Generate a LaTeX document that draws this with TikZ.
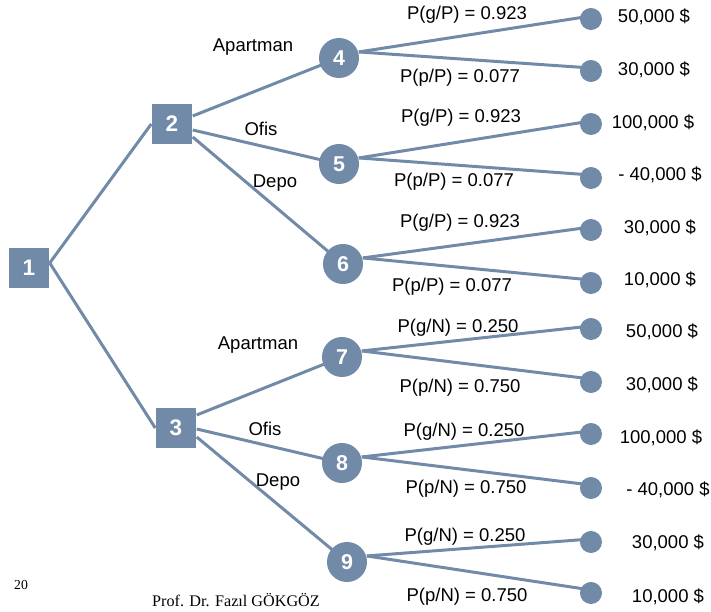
\documentclass[tikz,border=0pt]{standalone}
\usepackage{fontspec}
\setmainfont{Liberation Sans}
\newfontfamily\footerface{Liberation Serif}
\usetikzlibrary{backgrounds}
\definecolor{treeblue}{RGB}{112,138,167}
\begin{document}
\begin{tikzpicture}[x=0.01cm,y=-0.01cm,
  decision/.style={rectangle, fill=treeblue, minimum width=0.40cm, minimum height=0.39cm,
    inner sep=0pt, text=white, font=\fontsize{6.4}{7}\selectfont\bfseries},
  chance/.style={circle, fill=treeblue, minimum size=0.40cm, inner sep=0pt,
    text=white, font=\fontsize{6.1}{7}\selectfont\bfseries},
  leaf/.style={circle, fill=treeblue, minimum size=0.22cm, inner sep=0pt},
  lbl/.style={font=\fontsize{5.26}{6}\selectfont, inner sep=0pt},
  branch/.style={draw=treeblue, line width=0.85pt}]
\useasboundingbox (0,0) rectangle (711,612);

% decision nodes
\node[decision] (n1) at (29,268) {1};
\node[decision] (n2) at (172,124) {2};
\node[decision] (n3) at (176,428) {3};

% chance nodes
\node[chance] (n4) at (339,58) {4};
\node[chance] (n5) at (339,164) {5};
\node[chance] (n6) at (343,264) {6};
\node[chance] (n7) at (342,357) {7};
\node[chance] (n8) at (342,463) {8};
\node[chance] (n9) at (347,562) {9};

% end points
\node[leaf] (e1) at (591,19) {};
\node[leaf] (e2) at (591,71) {};
\node[leaf] (e3) at (591,124) {};
\node[leaf] (e4) at (591,178) {};
\node[leaf] (e5) at (591,230) {};
\node[leaf] (e6) at (591,283) {};
\node[leaf] (e7) at (591,329) {};
\node[leaf] (e8) at (591,382) {};
\node[leaf] (e9) at (591,434) {};
\node[leaf] (e10) at (591,488) {};
\node[leaf] (e11) at (591,542) {};
\node[leaf] (e12) at (591,593) {};

% branches
\begin{scope}[on background layer]
  \draw[branch] ([yshift=0.05cm]n1.east) -- (n2.west);
  \draw[branch] ([yshift=0.05cm]n1.east) -- (n3.west);
  \draw[branch] ([yshift=0.08cm]n2.east) -- (n4.center);
  \draw[branch] ([yshift=-0.06cm]n2.east) -- (n5.center);
  \draw[branch] ([yshift=-0.13cm]n2.east) -- (n6.center);
  \draw[branch] ([yshift=0.13cm]n3.east) -- (n7.center);
  \draw[branch] ([yshift=-0.01cm]n3.east) -- (n8.center);
  \draw[branch] ([yshift=-0.09cm]n3.east) -- (n9.center);
  \foreach \c/\u/\d in {n4/e1/e2, n5/e3/e4, n6/e5/e6, n7/e7/e8, n8/e9/e10, n9/e11/e12}{
    \draw[branch] (\c.17) -- ([yshift=0.03cm]\u.center);
    \draw[branch] (\c.17) -- ([yshift=0.03cm]\d.center);
  }
\end{scope}

% alternative labels
\node[lbl] (a1) at (253,47) {Apartman};
\node[lbl] (a2) at (261,129) {Ofis};
\node[lbl] (a3) at (275,183) {Depo};
\node[lbl] (a4) at (258,345) {Apartman};
\node[lbl] (a5) at (265,429) {Ofis};
\node[lbl] (a6) at (278,482) {Depo};

% probabilities
\node[lbl] (p1) at (467,15) {P(g/P) = 0.923};
\node[lbl] (p2) at (460,78) {P(p/P) = 0.077};
\node[lbl] (p3) at (461,118) {P(g/P) = 0.923};
\node[lbl] (p4) at (454,182) {P(p/P) = 0.077};
\node[lbl] (p5) at (460,223) {P(g/P) = 0.923};
\node[lbl] (p6) at (452,287) {P(p/P) = 0.077};
\node[lbl] (p7) at (458,328) {P(g/N) = 0.250};
\node[lbl] (p8) at (460,388) {P(p/N) = 0.750};
\node[lbl] (p9) at (464,432) {P(g/N) = 0.250};
\node[lbl] (p10) at (466,489) {P(p/N) = 0.750};
\node[lbl] (p11) at (465,537) {P(g/N) = 0.250};
\node[lbl] (p12) at (467,597) {P(p/N) = 0.750};

% payoffs
\node[lbl] (v1) at (654,17) {50,000 \$};
\node[lbl] (v2) at (654,70) {30,000 \$};
\node[lbl] (v3) at (653,123) {100,000 \$};
\node[lbl] (v4) at (660,175) {- 40,000 \$};
\node[lbl] (v5) at (660,228) {30,000 \$};
\node[lbl] (v6) at (660,280) {10,000 \$};
\node[lbl] (v7) at (662,332) {50,000 \$};
\node[lbl] (v8) at (662,385) {30,000 \$};
\node[lbl] (v9) at (661,438) {100,000 \$};
\node[lbl] (v10) at (668,490) {- 40,000 \$};
\node[lbl] (v11) at (668,543) {30,000 \$};
\node[lbl] (v12) at (668,597) {10,000 \$};

% footer
\node[font=\footerface\fontsize{3.9}{5}\selectfont, inner sep=0pt] (pg) at (21,585) {20};
\node[font=\footerface\fontsize{4.6}{5}\selectfont, inner sep=0pt] (au) at (236,600) {Prof. Dr. Fazıl GÖKGÖZ};
\end{tikzpicture}
\end{document}
